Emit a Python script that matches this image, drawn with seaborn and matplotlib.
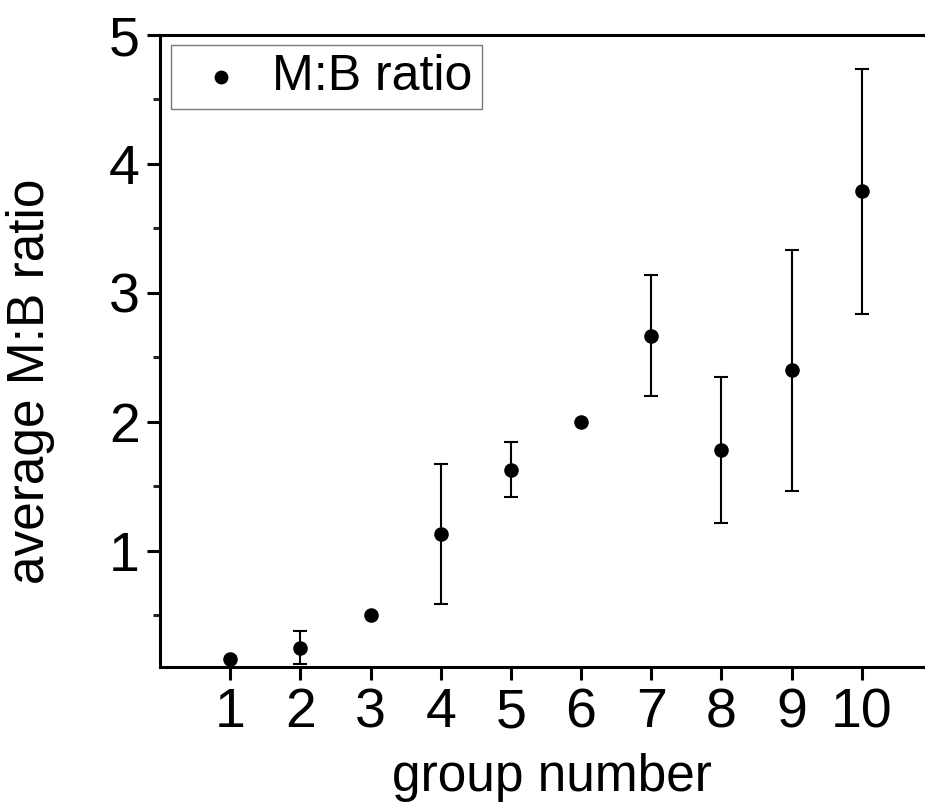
import matplotlib
matplotlib.use("Agg")
import matplotlib.pyplot as plt
from matplotlib.ticker import MultipleLocator
import numpy as np
import pandas as pd
import seaborn as sns

# Mean M:B ratio per group with its spread
groups = [1, 2, 3, 4, 5, 6, 7, 8, 9, 10]
ratio = [0.16, 0.25, 0.50, 1.13, 1.63, 2.00, 2.67, 1.78, 2.40, 3.79]
spread = [0.0, 0.13, 0.0, 0.545, 0.215, 0.0, 0.47, 0.565, 0.935, 0.95]

df = pd.DataFrame({"group": groups, "ratio": ratio, "err": spread})

sns.set_style("ticks")
plt.rcParams["font.family"] = ["Liberation Sans", "DejaVu Sans"]
plt.rcParams["text.color"] = "black"
plt.rcParams["axes.labelcolor"] = "black"

fig = plt.figure(figsize=(9.25, 8.08), dpi=100)
ax = fig.add_axes([160 / 925, 1 - 667 / 808, 765 / 925, (667 - 35) / 808])

# error bars only where a spread exists
with_err = df[df["err"] > 0]
ax.errorbar(with_err["group"], with_err["ratio"], yerr=with_err["err"],
            fmt="none", ecolor="black", elinewidth=1.5, capsize=5,
            capthick=1.5, zorder=2)

sns.scatterplot(data=df, x="group", y="ratio", ax=ax, color="black",
                s=110, edgecolor="black", linewidth=0, label="M:B ratio",
                zorder=3, clip_on=False)

ax.set_xlim(0, 10.9)
ax.set_ylim(0.1, 5)
ax.set_xticks(groups)
ax.set_yticks([1, 2, 3, 4, 5])
ax.yaxis.set_minor_locator(MultipleLocator(0.5))

for side in ["left", "bottom", "top"]:
    ax.spines[side].set_linewidth(2.2)
    ax.spines[side].set_color("black")
ax.spines["right"].set_visible(False)

ax.tick_params(axis="both", which="major", direction="out", length=9.5,
               width=2.2, labelsize=40, colors="black", pad=5)
ax.tick_params(axis="y", which="minor", direction="out", length=5, width=2.2)
ax.tick_params(axis="x", which="minor", bottom=False)
ax.tick_params(top=False, right=False)

ax.set_xlabel("group number", fontsize=37, color="black")
ax.set_ylabel("average M:B ratio", fontsize=37, color="black")
ax.xaxis.set_label_coords(0.512, -0.136)
ax.yaxis.set_label_coords(-0.137, 0.4525)

leg = ax.legend(loc="upper left", bbox_to_anchor=(0.014, 0.984), fontsize=36,
                frameon=True, fancybox=False, borderpad=0.18,
                handlelength=1.65, handletextpad=0.2, borderaxespad=0,
                markerscale=0.95, labelcolor="black")
leg.get_frame().set_edgecolor("#555555")
leg.get_frame().set_linewidth(1.0)

fig.savefig("out.png", dpi=100)
